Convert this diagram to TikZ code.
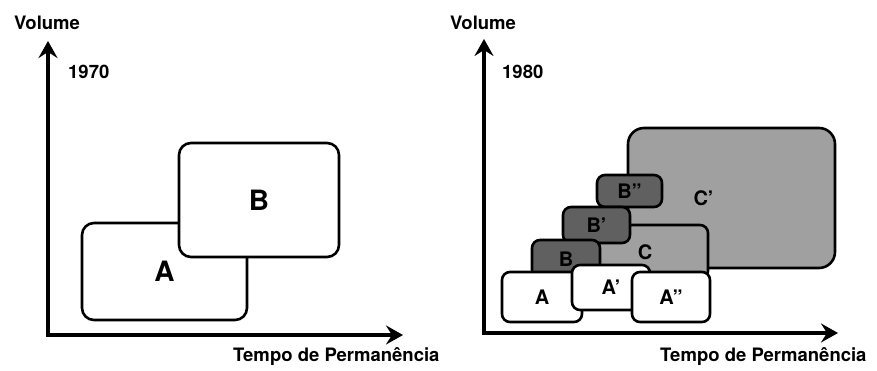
\documentclass[tikz,border=0pt]{standalone}
\usepackage{fontspec}
\setmainfont{TeX Gyre Heros}
\usepackage{tikz}
\usetikzlibrary{arrows.meta, positioning}
\definecolor{DotDark}{RGB}{96,96,96}
\definecolor{DotLight}{RGB}{160,160,160}

\tikzset{
  axis/.style={line width=4pt, line join=miter,
               {Stealth[length=17pt, width=19pt, inset=6pt]}-{Stealth[length=17pt, width=19pt, inset=6pt]}},
  axislabel/.style={font=\bfseries\fontsize{18.5}{20}\selectfont, inner sep=0pt},
  box/.style={draw, line width=2.6pt, fill=white, inner sep=0pt, rounded corners=12pt,
              font=\bfseries\fontsize{28}{30}\selectfont},
  smallbox/.style={box, rounded corners=8pt, font=\bfseries\fontsize{20}{22}\selectfont},
  darkbox/.style={smallbox, fill=DotDark},
  lightbox/.style={smallbox, fill=DotLight}
}

\begin{document}
\begin{tikzpicture}[x=1pt, y=-1pt]
  \useasboundingbox (0,0) rectangle (877,371);

  % 1970
  \coordinate (o1) at (48,335);
  \coordinate (v1) at (48,41);
  \coordinate (t1) at (403,335);
  \draw[axis] (v1) -- (o1) -- (t1);
  \node[axislabel] (vol1) at (47,23) {Volume};
  \node[axislabel, anchor=west] (yr1) at (68,72) {1970};
  \node[axislabel, anchor=west] (tp1) at (233,357) {Tempo de Permanência};

  \node[box, minimum width=165pt, minimum height=97pt] (a1) at (164.5,271.5) {A};
  \node[box, minimum width=160pt, minimum height=114pt] (b1) at (259,200) {B};

  % 1980
  \coordinate (o2) at (484,333);
  \coordinate (v2) at (484,39);
  \coordinate (t2) at (838,333);
  \draw[axis] (v2) -- (o2) -- (t2);
  \node[axislabel] (vol2) at (483,23) {Volume};
  \node[axislabel, anchor=west] (yr2) at (502,72) {1980};
  \node[axislabel, anchor=west] (tp2) at (660,357) {Tempo de Permanência};

  \node[lightbox, rounded corners=16pt, minimum width=207pt, minimum height=140pt,
        label={[xshift=-28pt, font=\bfseries\fontsize{20}{22}\selectfont]center:C'}] (c2b) at (731.5,198) {};
  \node[lightbox, minimum width=126pt, minimum height=54pt] (c2) at (645,252) {C};
  \node[darkbox, minimum width=65pt, minimum height=32pt] (b2c) at (629.5,191) {B''};
  \node[darkbox, minimum width=67pt, minimum height=36pt] (b2b) at (596.5,225) {B'};
  \node[darkbox, minimum width=68pt, minimum height=38pt] (b2) at (566,259) {B};
  \node[smallbox, minimum width=80pt, minimum height=50pt] (a2) at (542,297) {A};
  \node[smallbox, minimum width=78pt, minimum height=45pt] (a2b) at (611,287.5) {A'};
  \node[smallbox, minimum width=78pt, minimum height=50pt] (a2c) at (671,297) {A''};
\end{tikzpicture}
\end{document}
